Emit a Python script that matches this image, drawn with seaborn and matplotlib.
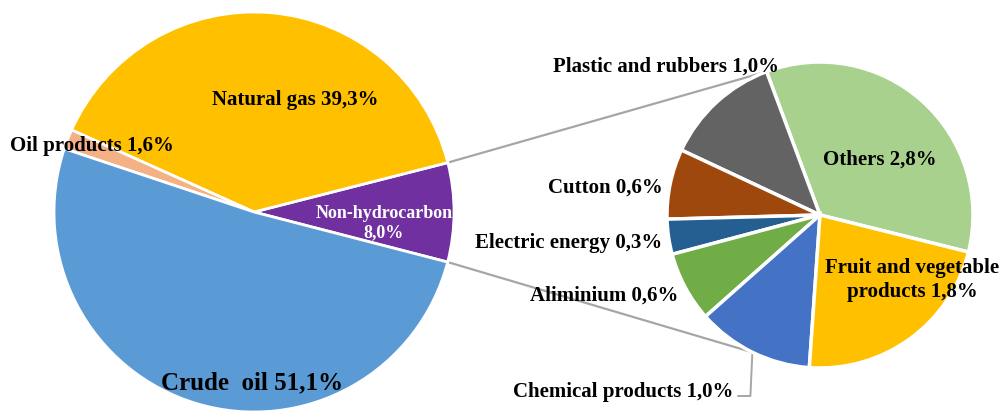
import numpy as np
import matplotlib
matplotlib.use("Agg")
import matplotlib.pyplot as plt
import seaborn as sns

# ── Data ──────────────────────────────────────────────────────────────────────
main_labels = ["Non-hydrocarbon", "Natural gas", "Oil products", "Crude  oil"]
main_values = [8.0, 39.3, 1.6, 51.1]
main_colors = ["#7030A0", "#FFC000", "#F4B183", "#5B9BD5"]

sub_labels = ["Others", "Plastic and rubbers", "Cutton", "Electric energy",
              "Aliminium", "Chemical products", "Fruit and vegetable\nproducts"]
sub_values = [2.8, 1.0, 0.6, 0.3, 0.6, 1.0, 1.8]
sub_colors = ["#A9D18E", "#636363", "#9E480E", "#255E91",
              "#70AD47", "#4472C4", "#FFC000"]

W, H = 1003, 417


def pct(v):
    return f"{v:.1f}".replace(".", ",") + "%"


def py(y):
    # pixel row (from top) -> axes y (from bottom)
    return H - y


sns.set_theme(style="white")
plt.rcParams["font.family"] = ["Liberation Serif", "DejaVu Serif"]

fig = plt.figure(figsize=(W / 100, H / 100), dpi=100)
ax = fig.add_axes([0, 0, 1, 1])

# ── Main pie ──────────────────────────────────────────────────────────────────
c1, r1 = (254, py(212)), 200
start1 = -14.5
explode = [0.035, 0, 0, 0]
wedges1, _ = ax.pie(
    main_values, colors=sns.color_palette(main_colors), startangle=start1,
    counterclock=True, center=c1, radius=r1, explode=explode,
    wedgeprops=dict(edgecolor="white", linewidth=2), frame=True,
)

# ── Secondary pie ─────────────────────────────────────────────────────────────
c2, r2 = (820, py(215)), 153
start2 = -14
wedges2, _ = ax.pie(
    sub_values, colors=sns.color_palette(sub_colors), startangle=start2,
    counterclock=True, center=c2, radius=r2,
    wedgeprops=dict(edgecolor="white", linewidth=2.5), frame=True,
)
ax.set_xlim(0, W)
ax.set_ylim(0, H)
ax.set_aspect("equal")
ax.axis("off")

# ── Connector lines ───────────────────────────────────────────────────────────
w0 = wedges1[0]
cx0, cy0 = w0.center
top_pt = (cx0 + r1 * np.cos(np.radians(w0.theta2)), cy0 + r1 * np.sin(np.radians(w0.theta2)))
bot_pt = (cx0 + r1 * np.cos(np.radians(w0.theta1)), cy0 + r1 * np.sin(np.radians(w0.theta1)))

a_top = wedges2[0].theta2
a_chem = 0.5 * (wedges2[5].theta1 + wedges2[5].theta2)
tgt_top = (c2[0] + r2 * np.cos(np.radians(a_top)), c2[1] + r2 * np.sin(np.radians(a_top)))
tgt_bot = (c2[0] + r2 * np.cos(np.radians(a_chem)), c2[1] + r2 * np.sin(np.radians(a_chem)))

line_kw = dict(color="#A6A6A6", lw=1.6, zorder=0.5)
ax.plot([top_pt[0], tgt_top[0]], [top_pt[1], tgt_top[1]], **line_kw)
ax.plot([bot_pt[0], tgt_bot[0]], [bot_pt[1], tgt_bot[1]], **line_kw)
# leader for chemical products label
ax.plot([738, tgt_bot[0] - 2, tgt_bot[0]], [py(396), py(396), tgt_bot[1]],
        color="#A6A6A6", lw=1.4, zorder=0.5)

# ── Labels ────────────────────────────────────────────────────────────────────
fs = 15
txt = dict(fontsize=fs, fontweight="bold", color="black", va="center")

main_pos = [(384, 223, "center"), (295, 100, "center"), (92, 146, "center"), (252, 383, "center")]
for lab, val, (x, y, ha) in zip(main_labels, main_values, main_pos):
    if lab == "Non-hydrocarbon":
        ax.text(x, py(y), f"{lab}\n{pct(val)}", ha=ha, fontsize=13, fontweight="bold",
                color="white", va="center", linespacing=1.15)
    elif lab.startswith("Crude"):
        ax.text(x, py(y), f"{lab} {pct(val)}", ha=ha, fontsize=18, fontweight="bold",
                color="black", va="center")
    else:
        ax.text(x, py(y), f"{lab} {pct(val)}", ha=ha, **txt)

sub_pos = [(880, 160, "center"), (666, 67, "center"), (663, 188, "right"),
           (662, 243, "right"), (678, 296, "right"), (733, 392, "right"),
           (912, 280, "center")]
for lab, val, (x, y, ha) in zip(sub_labels, sub_values, sub_pos):
    ax.text(x, py(y), f"{lab} {pct(val)}", ha=ha, linespacing=1.2, **txt)

fig.savefig("out.png", dpi=100)
